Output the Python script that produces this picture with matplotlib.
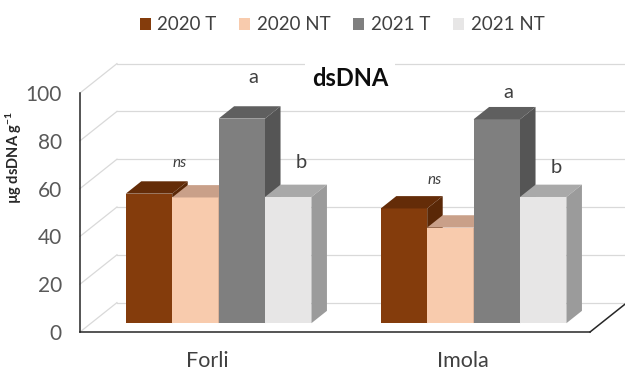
import numpy as np
import matplotlib.pyplot as plt
from matplotlib.patches import Patch, Polygon

plt.rcParams["font.family"] = ["Lato", "DejaVu Sans"]
plt.rcParams["mathtext.default"] = "regular"

sites = ["Forli", "Imola"]
series = ["2020 T", "2020 NT", "2021 T", "2021 NT"]
dsdna = np.array([
    [54.2, 52.6, 85.6, 52.8],   # Forli
    [48.0, 40.0, 85.3, 52.8],   # Imola
])
sig_labels = ["ns", "a", "b"]

front_cols = ["#843c0c", "#f8cbad", "#7f7f7f", "#e7e6e6"]
top_cols = ["#642c08", "#c9a089", "#5f5f5f", "#a9a9a9"]
side_cols = ["#5a2807", "#b58f7a", "#555555", "#9b9b9b"]

# oblique projection: full floor depth and bar slab, in data units
DX, DY = 0.145, 12.3
bar_off = (0.3 * DX, 0.3 * DY)
bar_depth = (0.42 * DX, 0.42 * DY)
width = 0.182

fig = plt.figure(figsize=(6.25, 3.74), dpi=100)
ax = fig.add_axes([80 / 625, 42 / 374, 510 / 625, 239 / 374])
ax.set_xlim(0, 2)
ax.set_ylim(0, 100)

grid_c = "#d9d9d9"
ticks = np.arange(0, 101, 20)
for v in ticks:
    # left wall diagonals and back wall gridlines
    ax.plot([0, DX], [v, v + DY], color=grid_c, lw=0.9, clip_on=False, zorder=1)
    ax.plot([DX, 2 + DX + 0.1], [v + DY, v + DY], color=grid_c, lw=0.9,
            clip_on=False, zorder=1)
# floor edge on the right
ax.plot([2, 2 + DX], [0, DY], color="#262626", lw=1.1, clip_on=False, zorder=2)

for s in ["top", "right"]:
    ax.spines[s].set_visible(False)
for s in ["left", "bottom"]:
    ax.spines[s].set_color("#262626")
    ax.spines[s].set_linewidth(1.1)

centers = np.arange(len(sites)) + 0.5
n = len(series)
for i, c in enumerate(centers):
    for j in range(n):
        x0 = c - n * width / 2 + j * width + bar_off[0]
        v = dsdna[i, j]
        z = 3 + (i * n + j) * 0.1
        ax.bar(x0, v, width=width, bottom=bar_off[1], align="edge",
               color=front_cols[j], zorder=z, clip_on=False)
        yt = v + bar_off[1]
        bx, by = bar_depth
        ax.add_patch(Polygon([[x0, yt], [x0 + width, yt],
                              [x0 + width + bx, yt + by], [x0 + bx, yt + by]],
                             closed=True, facecolor=top_cols[j], edgecolor="none",
                             zorder=z + 0.01, clip_on=False))
        ax.add_patch(Polygon([[x0 + width, bar_off[1]], [x0 + width, yt],
                              [x0 + width + bx, yt + by],
                              [x0 + width + bx, bar_off[1] + by]],
                             closed=True, facecolor=side_cols[j], edgecolor="none",
                             zorder=z + 0.02, clip_on=False))

# significance letters: ns over the 2020 pair, a/b over 2021 bars
lab_c = "#404040"
ns_dy = [16.5, 15.5]
a_dy = [21, 15]
b_dy = [18, 16]
for i, c in enumerate(centers):
    base = c - n * width / 2 + bar_off[0]
    ax.text(base + width + 0.03, dsdna[i, :2].max() + ns_dy[i], sig_labels[0],
            style="italic", fontsize=11, color=lab_c, ha="center", va="center",
            zorder=10)
    ax.text(base + 2.5 * width + 0.045, dsdna[i, 2] + a_dy[i], sig_labels[1],
            fontsize=14.5, color=lab_c, ha="center", va="center", zorder=10)
    ax.text(base + 3.5 * width + 0.05, dsdna[i, 3] + b_dy[i], sig_labels[2],
            fontsize=14.5, color=lab_c, ha="center", va="center", zorder=10)

ax.set_yticks(ticks)
ax.set_xticks(centers)
ax.set_xticklabels(sites, fontsize=15.5, color="#404040")
ax.tick_params(axis="y", length=0, pad=13, labelsize=15, labelcolor="#595959")
ax.tick_params(axis="x", length=0, pad=14)

ax.set_ylabel("µg dsDNA g$^{-1}$", fontsize=10.5, fontweight="bold", color="#262626")
ax.yaxis.set_label_coords(-0.11, 0.728)

fig.text(350 / 625, 1 - 78 / 374, "dsDNA", fontsize=17, fontweight="bold",
         color="#0d0d0d", ha="center", va="center", zorder=20,
         bbox=dict(boxstyle="square,pad=0.3", facecolor="white", edgecolor="none"))

handles = [Patch(facecolor=col, edgecolor="none", label=s)
           for s, col in zip(series, front_cols)]
fig.legend(handles=handles, loc="center", bbox_to_anchor=(342 / 625, 1 - 25 / 374),
           ncol=4, frameon=False, fontsize=13.5, handlelength=0.6, handleheight=0.6,
           handletextpad=0.35, columnspacing=1.2, labelcolor="#404040")

fig.savefig("out.png", dpi=100)
